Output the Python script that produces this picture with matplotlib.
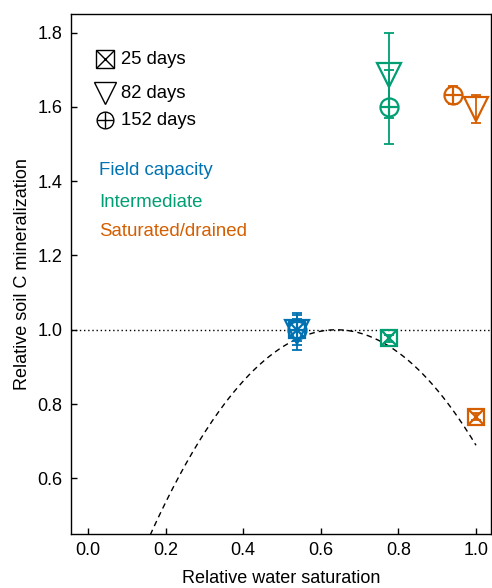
import numpy as np
import matplotlib
matplotlib.use("Agg")
import matplotlib.pyplot as plt

plt.rcParams['font.family'] = ['Liberation Sans', 'DejaVu Sans']
plt.rcParams['font.size'] = 13

# treatments: field capacity, intermediate, saturated/drained
groups = ['Field capacity', 'Intermediate', 'Saturated/drained']
colors = ['#0072B2', '#009E73', '#D55E00']

# x = relative water saturation for each (group, incubation time)
x_25 = [0.538, 0.776, 1.0]
y_25 = [1.00, 0.977, 0.766]
e_25 = [0.03, 0.01, 0.01]

x_82 = [0.538, 0.776, 1.0]
y_82 = [0.995, 1.685, 1.595]
e_82 = [0.05, 0.115, 0.038]

x_152 = [0.538, 0.776, 0.94]
y_152 = [1.00, 1.60, 1.632]
e_152 = [0.04, 0.10, 0.024]

# quadratic fit through the data
fit_coef = [-2.4, 3.072, 0.017]
fit_range = [0.15, 1.0]

fig = plt.figure(figsize=(4.92, 5.88), dpi=100)
ax = fig.add_axes([0.1443, 0.0918, 0.8537, 0.8842])

ax.axhline(1.0, color='black', ls=(0, (1, 2)), lw=1.0, zorder=1)
xs = np.linspace(fit_range[0], fit_range[1], 200)
ax.plot(xs, np.polyval(fit_coef, xs), color='black', ls=(0, (4, 3)), lw=1.0, zorder=1)


def draw(x, y, e, c, kind, size, lw=1.6, transform=None):
    kw = dict(color=c, mfc='none', mec=c, mew=lw, ls='none', zorder=3)
    if transform is not None:
        kw['transform'] = transform
    if kind == 'sq':
        ax.plot(x, y, marker='s', ms=size, **kw)
        ax.plot(x, y, marker='x', ms=size, **kw)
    elif kind == 'tri':
        ax.plot(x, y, marker='v', ms=size, **kw)
    else:
        ax.plot(x, y, marker='o', ms=size, **kw)
        ax.plot(x, y, marker='+', ms=size, **kw)
    if e is not None:
        ax.errorbar(x, y, yerr=e, fmt='none', ecolor=c, elinewidth=1.3,
                    capsize=3.6, capthick=1.3, zorder=2)


for i in range(3):
    draw(x_25[i], y_25[i], e_25[i], colors[i], 'sq', 12)
    draw(x_82[i], y_82[i], e_82[i], colors[i], 'tri', 17)
    draw(x_152[i], y_152[i], e_152[i], colors[i], 'o', 13)

# marker key
key_labels = ['25 days', '82 days', '152 days']
key_kinds = ['sq', 'tri', 'o']
key_sizes = [12.5, 16, 12]
key_y = [0.913, 0.848, 0.796]
for lab, kd, sz, yy in zip(key_labels, key_kinds, key_sizes, key_y):
    draw(0.080, yy, None, 'black', kd, sz, lw=1.0, transform=ax.transAxes)
    ax.text(0.119, yy, lab, transform=ax.transAxes, va='center', ha='left', fontsize=13.3)

group_y = [0.699, 0.637, 0.581]
for g, c, yy in zip(groups, colors, group_y):
    ax.text(0.067, yy, g, color=c, transform=ax.transAxes, va='center', ha='left', fontsize=13.4)

ax.set_xlim(-0.044, 1.0387)
ax.set_ylim(0.45, 1.85)
ax.set_xticks([0.0, 0.2, 0.4, 0.6, 0.8, 1.0])
ax.set_yticks([0.6, 0.8, 1.0, 1.2, 1.4, 1.6, 1.8])
ax.xaxis.set_major_formatter(matplotlib.ticker.FormatStrFormatter('%.1f'))
ax.yaxis.set_major_formatter(matplotlib.ticker.FormatStrFormatter('%.1f'))
ax.tick_params(direction='in', length=4, width=1, labelsize=13, pad=6)
for s in ax.spines.values():
    s.set_linewidth(1.0)
ax.set_xlabel('Relative water saturation', fontsize=13, labelpad=8)
ax.set_ylabel('Relative soil C mineralization', fontsize=13, labelpad=5)

fig.savefig('out.png', dpi=100)
